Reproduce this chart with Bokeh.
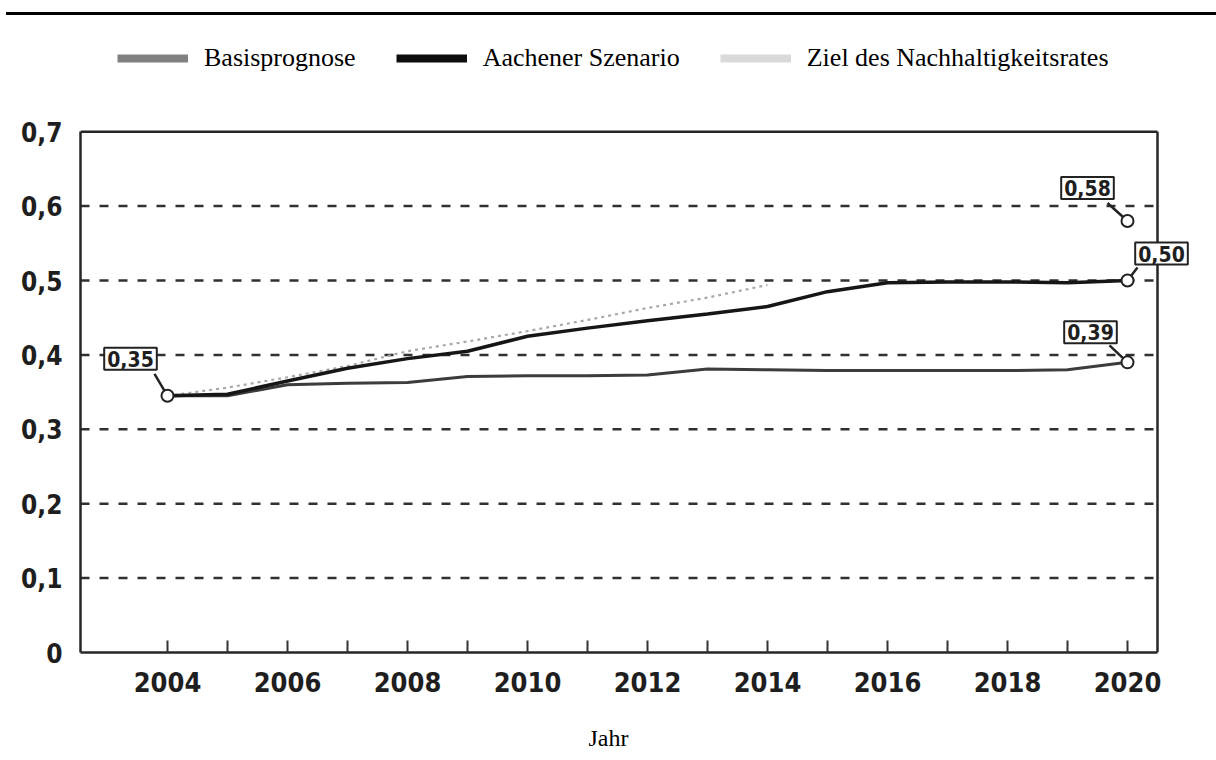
import math
from bokeh.plotting import figure
from bokeh.models import (Range1d, FixedTicker, CustomJSTickFormatter, Legend,
                          LegendItem, Label, ColumnDataSource, Div, Title)
from bokeh.layouts import column
from bokeh.embed import file_html
from bokeh.resources import INLINE

nan = float("nan")

# ---------------- data ----------------
years = [2004, 2005, 2006, 2007, 2008, 2009, 2010, 2011, 2012,
         2013, 2014, 2015, 2016, 2017, 2018, 2019, 2020]
basisprognose = [0.345, 0.345, 0.360, 0.362, 0.363, 0.371, 0.372, 0.372, 0.373,
                 0.381, 0.380, 0.379, 0.379, 0.379, 0.379, 0.380, 0.390]
aachener_szenario = [0.345, 0.347, 0.365, 0.382, 0.395, 0.405, 0.425, 0.436, 0.446,
                     0.455, 0.465, 0.485, 0.497, 0.498, 0.498, 0.497, 0.500]
ziel_nachhaltigkeitsrat = [0.345, 0.356, 0.370, 0.385, 0.405, 0.418, 0.432, 0.447, 0.463,
                           0.477, 0.494, nan, nan, nan, nan, nan, 0.580]
series_names = ["Basisprognose", "Aachener Szenario", "Ziel des Nachhaltigkeitsrates"]
legend_colors = ["#808080", "#0d0d0d", "#d9d9d9"]
y_ticks = [0.0, 0.1, 0.2, 0.3, 0.4, 0.5, 0.6, 0.7]
x_label_years = [2004, 2006, 2008, 2010, 2012, 2014, 2016, 2018, 2020]
x_minor_years = [2005, 2007, 2009, 2011, 2013, 2015, 2017, 2019]
callout_texts = ["0,35", "0,58", "0,50", "0,39"]
x_title = "Jahr"

# ---------------- geometry ----------------
PAGE_W = 1216
RULE_H = 15
W, H = PAGE_W, 744
BL, BR, BT, BB = 80, 0, 0, 107
FW, FH = W - BL - BR, H - BT - BB
PX_PER_YEAR = 60.0
PX_PER_UNIT = 744.0
X0 = 2004 - 87 / PX_PER_YEAR               # frame left
X1 = X0 + FW / PX_PER_YEAR                 # frame right (past the chart box)
XB = 2020.5                                # right border of the chart box
Y0 = 0.0
Y1 = FH / PX_PER_UNIT
YB = y_ticks[-1]                           # top border of the chart box

SCAN_FONT = "'Liberation Sans Narrow', 'DejaVu Sans Condensed', 'Arial Narrow', sans-serif"
SCAN_INK = "#1e1e1e"
BORDER = "#262626"

# ---------------- top rule ----------------
rule = Div(text="", width=PAGE_W - 6, height=RULE_H, margin=(0, 0, 0, 6),
           styles={"box-sizing": "border-box", "border-bottom": "3px solid #000000"})

# ---------------- chart ----------------
p = figure(width=W, height=H, x_range=Range1d(X0, X1), y_range=Range1d(Y0, Y1),
           output_backend="svg", toolbar_location=None,
           min_border_left=BL, min_border_right=BR, min_border_top=BT, min_border_bottom=BB,
           background_fill_color="white", border_fill_color="white")
p.outline_line_color = None
p.xgrid.visible = False
p.ygrid.visible = False

p.xaxis.bounds = (X0, XB)
p.xaxis.ticker = FixedTicker(ticks=x_label_years, minor_ticks=x_minor_years)
p.xaxis.formatter = CustomJSTickFormatter(code="return tick.toFixed(0);")
p.xaxis.axis_line_color = BORDER
p.xaxis.axis_line_width = 2.5
p.xaxis.major_tick_in = 12
p.xaxis.major_tick_out = 0
p.xaxis.minor_tick_in = 12
p.xaxis.minor_tick_out = 0
p.xaxis.major_tick_line_color = "#333333"
p.xaxis.minor_tick_line_color = "#333333"
p.xaxis.major_tick_line_width = 2
p.xaxis.minor_tick_line_width = 2
p.xaxis.major_label_standoff = 19
p.xaxis.major_label_text_font = SCAN_FONT
p.xaxis.major_label_text_font_style = "bold"
p.xaxis.major_label_text_font_size = "27px"
p.xaxis.major_label_text_color = SCAN_INK

# x-axis title, centred on the page and sitting low like in the reference
# (a leading line break keeps it near the bottom edge of the page)
x_title_obj = Title(text="\n" + x_title, align="left", offset=508, standoff=4,
                    text_font="Liberation Serif", text_font_style="normal",
                    text_font_size="24px", text_color="#000000")
p.add_layout(x_title_obj, "below")

p.yaxis.bounds = (Y0, YB)
p.yaxis.ticker = FixedTicker(ticks=y_ticks)
p.yaxis.formatter = CustomJSTickFormatter(
    code="return tick == 0 ? '0' : tick.toFixed(1).replace('.', ',');")
p.yaxis.axis_line_color = BORDER
p.yaxis.axis_line_width = 2.5
p.yaxis.major_tick_line_color = None
p.yaxis.minor_tick_line_color = None
p.yaxis.major_tick_in = 0
p.yaxis.major_tick_out = 0
p.yaxis.major_label_standoff = 18
p.yaxis.major_label_text_font = SCAN_FONT
p.yaxis.major_label_text_font_style = "bold"
p.yaxis.major_label_text_font_size = "26px"
p.yaxis.major_label_text_color = SCAN_INK

# chart box (top and right border) and dashed grid
p.segment(x0=[X0, XB], y0=[YB, Y0], x1=[XB, XB], y1=[YB, YB],
          line_color=BORDER, line_width=2.5)
grid_y = y_ticks[1:-1]
p.segment(x0=[X0] * len(grid_y), y0=grid_y, x1=[XB] * len(grid_y), y1=grid_y,
          line_color="#303030", line_width=2.5, line_dash="9 10")

# series
src = ColumnDataSource(dict(year=years, basis=basisprognose,
                            aachen=aachener_szenario, ziel=ziel_nachhaltigkeitsrat))
p.line("year", "ziel", source=src, line_color="#a8a8a8", line_width=2.2, line_dash="3 4")
p.line("year", "basis", source=src, line_color="#3c3c3c", line_width=3)
p.line("year", "aachen", source=src, line_color="#161616", line_width=3.5)

# callouts (marker, leader, boxed value)
cx = [years[0], years[-1], years[-1], years[-1]]
cy = [basisprognose[0], ziel_nachhaltigkeitsrat[-1], aachener_szenario[-1], basisprognose[-1]]
leader_px = [(-13, 22), (-20, 18), (10, 13), (-18, 17)]
box_px = [(-37, 37), (-40, 33), (34, 27), (-37, 30)]
lx1 = [x + dx / PX_PER_YEAR for x, (dx, dy) in zip(cx, leader_px)]
ly1 = [y + dy / PX_PER_UNIT for y, (dx, dy) in zip(cy, leader_px)]
p.segment(x0=cx, y0=cy, x1=lx1, y1=ly1, line_color="#222222", line_width=2.5)
p.scatter(x=cx, y=cy, size=12, marker="circle", fill_color="white",
          line_color="#222222", line_width=2)
for x, y, t, (ox, oy) in zip(cx, cy, callout_texts, box_px):
    p.add_layout(Label(x=x, y=y, x_offset=ox, y_offset=oy, text=t,
                       text_align="center", text_baseline="middle",
                       text_font=SCAN_FONT, text_font_style="bold",
                       text_font_size="21px", text_color=SCAN_INK,
                       border_line_color="#222222", border_line_width=2,
                       background_fill_color="white", padding=3))

# legend (inside the frame, above the chart box); swatch renderers hold one point
# each, so they draw no visible line but give the legend its swatch colours
dummies = [p.line(x=[years[0]], y=[basisprognose[0]], line_color=c, line_width=8)
           for c in legend_colors]
legend = Legend(items=[LegendItem(label=n, renderers=[r]) for n, r in zip(series_names, dummies)],
                orientation="horizontal", location=(37, 579.5),
                glyph_width=71, glyph_height=30, label_height=30,
                label_standoff=16, spacing=40, padding=0, margin=0,
                border_line_color=None, background_fill_alpha=0,
                label_text_font="Liberation Serif", label_text_font_size="26px",
                label_text_color="#000000")
p.add_layout(legend, "center")

layout = column(rule, p, spacing=0)
open("out.html", "w").write(file_html(layout, INLINE))
